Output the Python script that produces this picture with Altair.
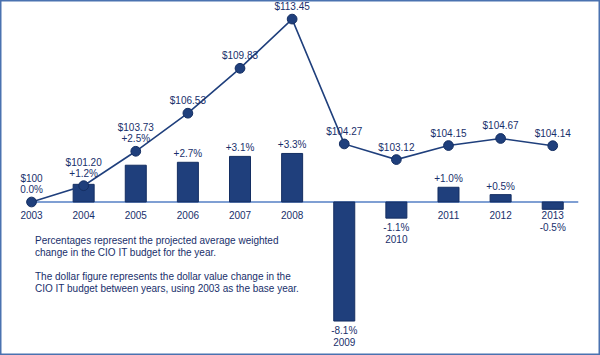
import altair as alt
import pandas as pd

# ---------------- data ----------------
years = [2003, 2004, 2005, 2006, 2007, 2008, 2009, 2010, 2011, 2012, 2013]
dollars = [100.00, 101.20, 103.73, 106.53, 109.83, 113.45, 104.27, 103.12, 104.15, 104.67, 104.14]
pct_change = [0.0, 1.2, 2.5, 2.7, 3.1, 3.3, -8.1, -1.1, 1.0, 0.5, -0.5]
note_para1 = [
    "Percentages represent the projected average weighted",
    "change in the CIO IT budget for the year.",
]
note_para2 = [
    "The dollar figure represents the dollar value change in the",
    "CIO IT budget between years, using 2003 as the base year.",
]

# ---------------- styling ----------------
W, H = 600, 355
NAVY = "#1f3f7c"
NAVY_DARK = "#142e62"
TEXT = "#182f6b"
AXIS = "#7f9fd3"
BORDER = "#4a72b0"
FONT = "Liberation Sans"
FS = 10

X_DOM = [2002.491, 2013.811]
PCT_DOM = [-10.41, 13.74]
USD_DOM = [88.75, 114.853]

xs = alt.Scale(domain=X_DOM, nice=False, zero=False)
ps = alt.Scale(domain=PCT_DOM, nice=False, zero=False)
us = alt.Scale(domain=USD_DOM, nice=False, zero=False)


def py(v, dom):
    return H * (dom[1] - v) / (dom[1] - dom[0])


def fmt_usd(d):
    return f"${d:.0f}" if d == round(d) else f"${d:.2f}"


def fmt_pct(p):
    return "0.0%" if p == 0 else f"{p:+.1f}%"


df = pd.DataFrame({"year": years, "usd": dollars, "pct": pct_change})
df["usd_txt"] = df["usd"].map(fmt_usd)
df["pct_txt"] = df["pct"].map(fmt_pct)
df["yr_txt"] = df["year"].astype(str)

# label layout decisions from the scales
gap = df.apply(lambda r: py(max(r.pct, 0), PCT_DOM) - py(r.usd, USD_DOM), axis=1)
combined = (df["pct"] >= 0) & (gap < 30)
neg = df["pct"] < 0
short_neg = neg & ((df["pct"].abs() * H / (PCT_DOM[1] - PCT_DOM[0])) < 9)
long_neg = neg & ~short_neg

bars_df = df[df["pct"] != 0]
usd_single_df = df[~combined]
comb_df = df[combined]
above_df = df[(df["pct"] > 0) & ~combined]
yr_std_df = df[~long_neg]
negpct_df = df[long_neg]
short_df = df[short_neg]

X = alt.X("year:Q", scale=xs, axis=None)
YU = alt.Y("usd:Q", scale=us, axis=None)
YP = alt.Y("pct:Q", scale=ps, axis=None)
Y0 = alt.Y(datum=0, type="quantitative", scale=ps, axis=None)


def txt(**kw):
    base = dict(font=FONT, fontSize=FS, color=TEXT, align="center")
    base.update(kw)
    return base


zero_line = alt.Chart(pd.DataFrame({"a": [0]})).mark_rule(color=AXIS, strokeWidth=2).encode(
    x=alt.X(datum=years[0], type="quantitative", scale=xs, axis=None),
    x2=alt.X2(datum=years[-1] + 0.49),
    y=Y0,
)

bars = alt.Chart(bars_df).mark_bar(width=21, color=NAVY, stroke=NAVY_DARK, strokeWidth=1).encode(
    x=X, y=YP, y2=alt.Y2(datum=0)
)

line = alt.Chart(df).mark_line(color=NAVY, strokeWidth=1.6).encode(x=X, y=YU)

points = alt.Chart(df).mark_circle(size=95, fill=NAVY, stroke=NAVY_DARK, strokeWidth=1, opacity=1).encode(
    x=X, y=YU
)

usd_labels = alt.Chart(usd_single_df).mark_text(**txt(baseline="bottom", dy=-7)).encode(
    x=X, y=YU, text="usd_txt:N"
)

comb_pct = alt.Chart(comb_df).mark_text(**txt(baseline="bottom", dy=-7)).encode(
    x=X, y=YU, text="pct_txt:N"
)

comb_usd = alt.Chart(comb_df).mark_text(**txt(baseline="bottom", dy=-18)).encode(
    x=X, y=YU, text="usd_txt:N"
)

pct_above = alt.Chart(above_df).mark_text(**txt(baseline="bottom", dy=-3)).encode(
    x=X, y=YP, text="pct_txt:N"
)

yr_std = alt.Chart(yr_std_df).mark_text(**txt(baseline="top", dy=9)).encode(
    x=X, y=Y0, text="yr_txt:N"
)

short_pct = alt.Chart(short_df).mark_text(**txt(baseline="top", dy=21)).encode(
    x=X, y=Y0, text="pct_txt:N"
)

neg_pct = alt.Chart(negpct_df).mark_text(**txt(baseline="top", dy=5)).encode(
    x=X, y=YP, text="pct_txt:N"
)

neg_yr = alt.Chart(negpct_df).mark_text(**txt(baseline="top", dy=17)).encode(
    x=X, y=YP, text="yr_txt:N"
)

note_style = dict(font=FONT, fontSize=FS, color=TEXT, align="left", baseline="top",
                  lineBreak="\n", lineHeight=12)
note1 = alt.Chart(pd.DataFrame({"t": ["\n".join(note_para1)]})).mark_text(**note_style).encode(
    x=alt.value(35), y=alt.value(236), text="t:N"
)
note2 = alt.Chart(pd.DataFrame({"t": ["\n".join(note_para2)]})).mark_text(**note_style).encode(
    x=alt.value(35), y=alt.value(272), text="t:N"
)

chart = (
    alt.layer(zero_line, bars, line, points, usd_labels, comb_pct, comb_usd, pct_above,
              yr_std, short_pct, neg_pct, neg_yr, note1, note2)
    .resolve_scale(y="independent")
    .properties(width=W, height=H, autosize=alt.AutoSizeParams(type="none"), padding=0, background="white")
    .configure_view(stroke=BORDER, strokeWidth=3)
)

chart.save("out.html", embed_options={"renderer": "svg", "actions": False})
